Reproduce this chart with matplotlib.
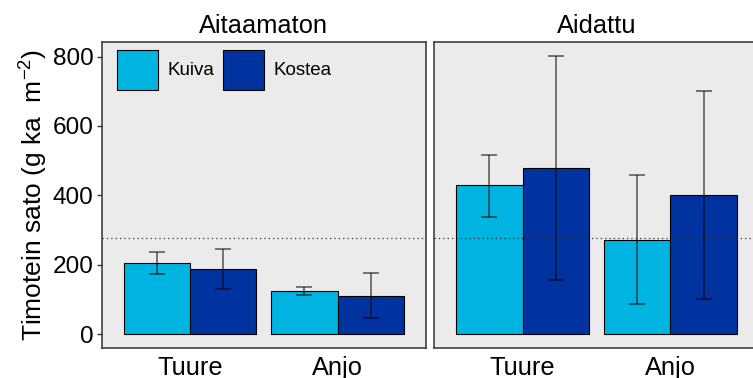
import matplotlib
matplotlib.use("Agg")
import matplotlib.pyplot as plt
import numpy as np
from matplotlib.patches import Patch

plt.rcParams['font.family'] = ['Liberation Sans', 'DejaVu Sans']
plt.rcParams['mathtext.fontset'] = 'custom'
plt.rcParams['mathtext.rm'] = 'Liberation Sans'
plt.rcParams['mathtext.it'] = 'Liberation Sans'
plt.rcParams['mathtext.default'] = 'regular'

panels = ["Aitaamaton", "Aidattu"]
cultivars = ["Tuure", "Anjo"]
treatments = ["Kuiva", "Kostea"]
colors = ["#00B4E1", "#0033A0"]

# means [panel][treatment][cultivar]
means = {
    "Aitaamaton": {"Kuiva": [206, 124], "Kostea": [187, 110]},
    "Aidattu": {"Kuiva": [429, 271], "Kostea": [479, 401]},
}
lower = {
    "Aitaamaton": {"Kuiva": [174, 113], "Kostea": [131, 46]},
    "Aidattu": {"Kuiva": [339, 87], "Kostea": [155, 100]},
}
upper = {
    "Aitaamaton": {"Kuiva": [238, 137], "Kostea": [246, 175]},
    "Aidattu": {"Kuiva": [516, 458], "Kostea": [803, 700]},
}
ref_line = 277
yticks = [0, 200, 400, 600, 800]

W, H = 753, 378
fig = plt.figure(figsize=(W / 100, H / 100), dpi=100)

def fx(px):
    return px / W

def fy(py):
    return 1 - py / H

top, bottom = 41.7, 348
positions = [(101.7, 426), (434, 759)]
axes = []
for (l, r) in positions:
    ax = fig.add_axes([fx(l), fy(bottom), fx(r - l), (bottom - top) / H])
    axes.append(ax)

bw = 0.45
x = np.arange(1, len(cultivars) + 1)
for pi, (ax, panel) in enumerate(zip(axes, panels)):
    ax.set_facecolor("#EBEBEB")
    for ti, t in enumerate(treatments):
        xs = x + (ti - 0.5) * bw
        m = np.array(means[panel][t])
        lo = np.array(lower[panel][t])
        hi = np.array(upper[panel][t])
        ax.bar(xs, m, width=bw, color=colors[ti], edgecolor="black", linewidth=0.8, zorder=2, label=t)
        ax.errorbar(xs, m, yerr=[m - lo, hi - m], fmt="none", ecolor="black", alpha=0.6,
                    elinewidth=1.2, capsize=5.5, capthick=1.2, zorder=3)
    ax.axhline(ref_line, color="#333333", linestyle=(0, (1, 2.5)), linewidth=0.9, zorder=4)
    ax.set_xlim(0.4, 2.6)
    ax.set_ylim(-40, 843)
    ax.set_xticks(x)
    ax.set_xticklabels(cultivars, fontsize=18.3, color="black")
    ax.tick_params(axis="x", length=0, pad=6)
    for s in ax.spines.values():
        s.set_color("#333333")
        s.set_linewidth(1.1)
    ax.set_title(panel, fontsize=18.3, pad=6)
    if pi == 0:
        ax.set_yticks(yticks)
        ax.set_yticklabels([str(v) for v in yticks], fontsize=17.6)
        ax.tick_params(axis="y", length=3.5, width=1, color="#333333", pad=2.5)
        ax.set_ylabel(r"Timotein sato (g ka  m$^{-2}$)", fontsize=19, labelpad=2)
    else:
        ax.set_yticks([])

handles = [Patch(facecolor=colors[i], edgecolor="black", linewidth=0.8) for i in range(2)]
axes[0].legend(handles, treatments, ncol=2, loc="upper left", frameon=False, fontsize=13.5,
               handlelength=2.19, handleheight=2.9, handletextpad=0.5, columnspacing=0.46,
               bbox_to_anchor=(0.048, 0.973), borderaxespad=0, borderpad=0)

fig.savefig("out.png", dpi=100)
